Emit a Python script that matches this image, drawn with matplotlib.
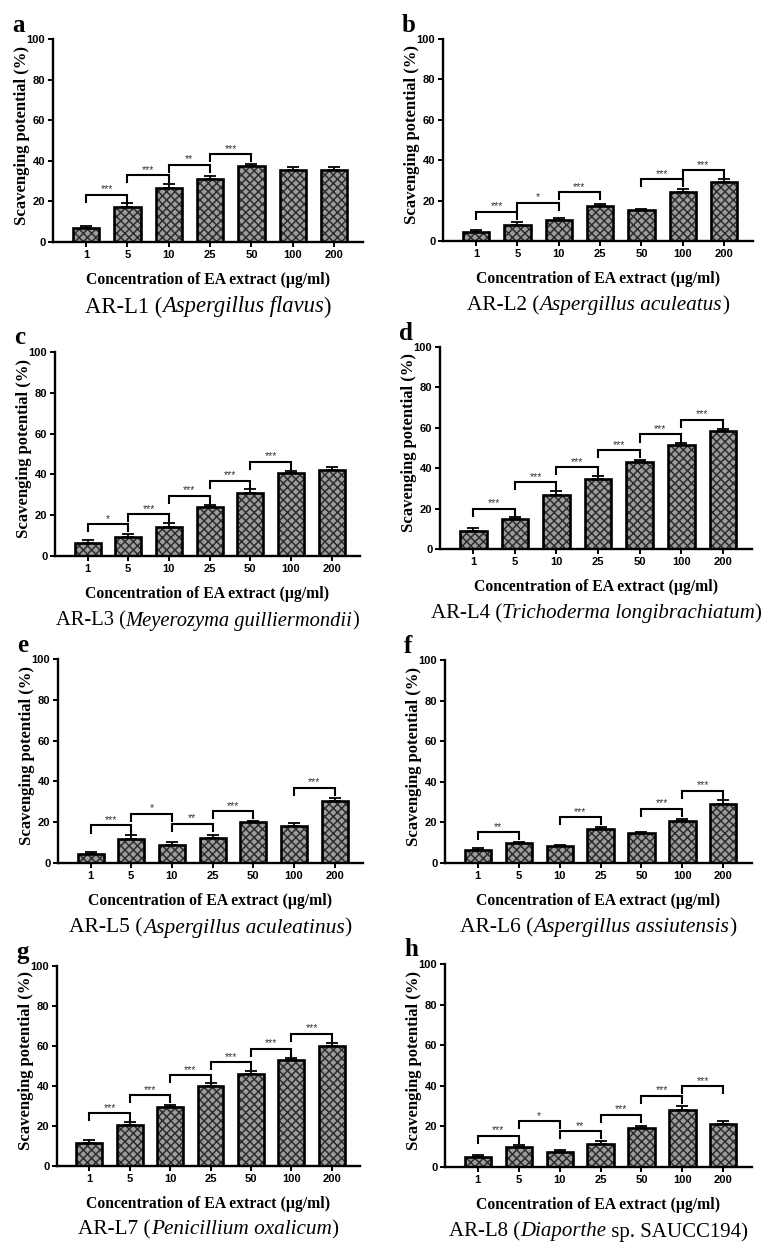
import numpy as np
import matplotlib
matplotlib.use('Agg')
import matplotlib.pyplot as plt

plt.rcParams.update({'font.family': 'Liberation Sans',
                     'hatch.linewidth': 1.1})

conc = ['1', '5', '10', '25', '50', '100', '200']

# AR-L1
l1_mean = [6.7, 17.3, 26.8, 31.1, 37.2, 35.5, 35.7]
l1_err = [1.4, 1.8, 1.6, 1.3, 1.0, 1.5, 1.3]
l1_pairs = [(0, 1), (1, 2), (2, 3), (3, 4)]
l1_level = [23.2, 33.0, 38.0, 43.3]
l1_stars = ['***', '***', '**', '***']

# AR-L2
l2_mean = [4.3, 7.9, 10.2, 17.2, 15.2, 24.3, 29.0]
l2_err = [1.0, 1.5, 1.4, 1.1, 0.8, 1.3, 1.5]
l2_pairs = [(0, 1), (1, 2), (2, 3), (4, 5), (5, 6)]
l2_level = [14.4, 19.0, 24.1, 30.7, 35.1]
l2_stars = ['***', '*', '***', '***', '***']

# AR-L3
l3_mean = [6.6, 9.3, 14.4, 23.8, 31.1, 40.5, 42.3]
l3_err = [1.4, 1.5, 1.7, 1.3, 1.5, 1.3, 1.5]
l3_pairs = [(0, 1), (1, 2), (2, 3), (3, 4), (4, 5)]
l3_level = [15.6, 20.5, 29.5, 37.0, 46.2]
l3_stars = ['*', '***', '***', '***', '***']

# AR-L4
l4_mean = [9.0, 14.8, 26.8, 34.7, 43.1, 51.5, 58.6]
l4_err = [1.2, 1.2, 1.7, 1.2, 1.1, 0.8, 0.9]
l4_pairs = [(0, 1), (1, 2), (2, 3), (3, 4), (4, 5), (5, 6)]
l4_level = [19.9, 33.0, 40.5, 48.8, 56.7, 64.1]
l4_stars = ['***'] * 6

# AR-L5
l5_mean = [4.3, 11.8, 9.0, 12.5, 20.0, 18.2, 30.5]
l5_err = [1.1, 2.0, 1.3, 1.3, 0.8, 1.5, 1.5]
l5_pairs = [(0, 1), (1, 2), (2, 3), (3, 4), (5, 6)]
l5_level = [18.4, 24.1, 19.2, 25.4, 36.9]
l5_stars = ['***', '*', '**', '***', '***']

# AR-L6
l6_mean = [6.2, 9.7, 8.4, 16.6, 14.6, 20.5, 29.0]
l6_err = [1.2, 0.8, 0.6, 1.3, 0.8, 1.3, 2.0]
l6_pairs = [(0, 1), (2, 3), (4, 5), (5, 6)]
l6_level = [15.2, 22.5, 26.7, 35.6]
l6_stars = ['**', '***', '***', '***']

# AR-L7
l7_mean = [11.5, 20.3, 29.3, 40.0, 46.2, 53.0, 60.2]
l7_err = [1.3, 1.5, 1.2, 1.5, 1.5, 1.0, 1.1]
l7_pairs = [(0, 1), (1, 2), (2, 3), (3, 4), (4, 5), (5, 6)]
l7_level = [26.5, 35.3, 45.5, 51.8, 58.7, 66.2]
l7_stars = ['***'] * 6

# AR-L8
l8_mean = [4.9, 10.0, 7.6, 11.5, 19.1, 28.3, 21.4]
l8_err = [1.2, 1.0, 0.8, 1.2, 1.1, 1.6, 1.3]
l8_pairs = [(0, 1), (1, 2), (2, 3), (3, 4), (4, 5), (5, 6)]
l8_level = [15.3, 22.5, 17.6, 25.8, 35.0, 39.8]
l8_stars = ['***', '*', '**', '***', '***', '***']

letters = ['a', 'b', 'c', 'd', 'e', 'f', 'g', 'h']
strains = ['AR-L1', 'AR-L2', 'AR-L3', 'AR-L4', 'AR-L5', 'AR-L6', 'AR-L7', 'AR-L8']
species = ['Aspergillus flavus', 'Aspergillus aculeatus', 'Meyerozyma guilliermondii',
           'Trichoderma longibrachiatum', 'Aspergillus aculeatinus', 'Aspergillus assiutensis',
           'Penicillium oxalicum', 'Diaporthe']
suffix = ['', '', '', '', '', '', '', ' sp. SAUCC194']

all_mean = [l1_mean, l2_mean, l3_mean, l4_mean, l5_mean, l6_mean, l7_mean, l8_mean]
all_err = [l1_err, l2_err, l3_err, l4_err, l5_err, l6_err, l7_err, l8_err]
all_pairs = [l1_pairs, l2_pairs, l3_pairs, l4_pairs, l5_pairs, l6_pairs, l7_pairs, l8_pairs]
all_level = [l1_level, l2_level, l3_level, l4_level, l5_level, l6_level, l7_level, l8_level]
all_stars = [l1_stars, l2_stars, l3_stars, l4_stars, l5_stars, l6_stars, l7_stars, l8_stars]

W, H = 778, 1256
# axes boxes in pixels: left, top, right, bottom
boxes = [(53, 39, 363, 242), (443, 39, 753, 241),
         (55, 352, 360, 556), (440, 347, 752, 549),
         (58, 659, 363, 863), (445, 660, 752, 863),
         (57, 966, 360, 1166), (445, 964, 752, 1167)]
cap_size = [16.3, 15.3, 14.8, 15.0, 15.45, 15.45, 15.35, 15.0]

fig = plt.figure(figsize=(W / 100, H / 100), dpi=100)
renderer = fig.canvas.get_renderer()

for k in range(8):
    l, t, r, b = boxes[k]
    ax = fig.add_axes([l / W, 1 - b / H, (r - l) / W, (b - t) / H])
    x = np.arange(len(conc))
    mean = np.array(all_mean[k])
    err = np.array(all_err[k])

    ax.bar(x, mean, width=0.64, color='#9c9c9c', edgecolor='#2e2e2e',
           hatch='xxxx', linewidth=0, zorder=2)
    ax.bar(x, mean, width=0.64, fill=False, edgecolor='black', linewidth=1.9, zorder=3)
    ax.errorbar(x, mean, yerr=[np.zeros(len(x)), err], fmt='none', ecolor='black',
                elinewidth=1.3, capsize=4.5, capthick=1.3, zorder=4)

    for (i, j), y, s in zip(all_pairs[k], all_level[k], all_stars[k]):
        ax.plot([i, i, j, j], [y - 3.5, y, y, y - 3.5], color='black', lw=1.5,
                solid_joinstyle='miter', zorder=5)
        ax.text((i + j) / 2, y + 0.2, s, ha='center', va='bottom', fontsize=7.5,
                color='#333333')

    ax.set_xlim(-0.8, 6.7)
    ax.set_ylim(0, 100)
    ax.set_yticks(np.arange(0, 101, 20))
    ax.set_xticks(x)
    ax.set_xticklabels(conc)
    for lab in ax.get_xticklabels() + ax.get_yticklabels():
        lab.set_fontweight('bold')
    ax.tick_params(labelsize=8, width=1.4, length=3.5, pad=2)
    for sp in ['top', 'right']:
        ax.spines[sp].set_visible(False)
    for sp in ['left', 'bottom']:
        ax.spines[sp].set_linewidth(1.7)

    ax.set_ylabel('Scavenging potential (%)', family='Liberation Serif',
                  fontweight='bold', fontsize=12, va='center')
    ax.yaxis.set_label_coords(-31 / (r - l), 0.525)
    ax.set_xlabel('Concentration of EA extract (\u00b5g/ml)', family='Liberation Serif',
                  fontweight='bold', fontsize=11.3, labelpad=9)

    # caption: strain name upright, species in italics
    parts = [(strains[k] + ' (', 'normal'), (species[k], 'italic'), (suffix[k] + ')', 'normal')]
    texts = []
    widths = []
    for txt, style in parts:
        tt = ax.text(0, -0.32, txt, transform=ax.transAxes, ha='left', va='center',
                     family='Liberation Serif', style=style, fontsize=cap_size[k])
        texts.append(tt)
        widths.append(tt.get_window_extent(renderer).width)
    pos = 0.5 - sum(widths) / 2 / (r - l)
    for tt, w in zip(texts, widths):
        tt.set_x(pos)
        pos += w / (r - l)

    fig.text((l - 41) / W, 1 - (t - 14) / H, letters[k], family='Liberation Serif',
             fontweight='bold', fontsize=18, ha='left', va='center')

fig.savefig('out.png', dpi=100)
